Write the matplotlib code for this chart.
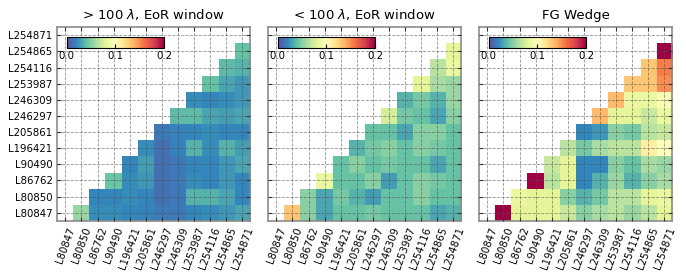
import numpy as np
import matplotlib
matplotlib.use("Agg")
import matplotlib.pyplot as plt

obs_ids = ["L80847", "L80850", "L86762", "L90490", "L196421", "L205861",
           "L246297", "L246309", "L253987", "L254116", "L254865", "L254871"]

titles = [r"> 100 $\lambda$, EoR window", r"< 100 $\lambda$, EoR window", "FG Wedge"]

# row i holds the values for columns i+1 .. 11 (upper triangle)
eor_high = [
    [0.055, 0.022, 0.022, 0.020, 0.018, 0.015, 0.015, 0.020, 0.022, 0.025, 0.030],
    [0.020, 0.020, 0.022, 0.020, 0.012, 0.015, 0.035, 0.035, 0.030, 0.020],
    [0.042, 0.022, 0.025, 0.012, 0.015, 0.022, 0.020, 0.025, 0.020],
    [0.020, 0.028, 0.012, 0.015, 0.020, 0.020, 0.025, 0.030],
    [0.022, 0.012, 0.018, 0.035, 0.022, 0.035, 0.028],
    [0.015, 0.018, 0.020, 0.022, 0.020, 0.020],
    [0.038, 0.038, 0.030, 0.028, 0.030],
    [0.022, 0.020, 0.022, 0.025],
    [0.040, 0.030, 0.025],
    [0.038, 0.035],
    [0.040],
]

eor_low = [
    [0.130, 0.050, 0.030, 0.040, 0.040, 0.045, 0.040, 0.040, 0.040, 0.030, 0.035],
    [0.050, 0.030, 0.045, 0.035, 0.027, 0.040, 0.040, 0.050, 0.040, 0.040],
    [0.085, 0.040, 0.040, 0.050, 0.027, 0.040, 0.050, 0.045, 0.040],
    [0.040, 0.050, 0.040, 0.045, 0.040, 0.040, 0.030, 0.040],
    [0.035, 0.045, 0.050, 0.040, 0.050, 0.045, 0.040],
    [0.040, 0.040, 0.030, 0.050, 0.050, 0.040],
    [0.075, 0.045, 0.040, 0.030, 0.050],
    [0.035, 0.045, 0.035, 0.055],
    [0.080, 0.060, 0.055],
    [0.065, 0.085],
    [0.080],
]

fg_wedge = [
    [0.200, 0.080, 0.080, 0.080, 0.070, 0.050, 0.060, 0.065, 0.055, 0.065, 0.080],
    [0.085, 0.080, 0.080, 0.050, 0.035, 0.045, 0.065, 0.065, 0.080, 0.085],
    [0.200, 0.065, 0.080, 0.020, 0.035, 0.055, 0.035, 0.050, 0.060],
    [0.070, 0.080, 0.020, 0.020, 0.050, 0.040, 0.060, 0.055],
    [0.065, 0.045, 0.060, 0.065, 0.065, 0.110, 0.100],
    [0.020, 0.025, 0.050, 0.045, 0.065, 0.070],
    [0.135, 0.080, 0.080, 0.070, 0.085],
    [0.135, 0.085, 0.085, 0.095],
    [0.130, 0.130, 0.150],
    [0.130, 0.155],
    [0.200],
]


def to_matrix(rows):
    n = len(obs_ids)
    m = np.full((n, n), np.nan)
    for i, row in enumerate(rows):
        m[i, i + 1:i + 1 + len(row)] = row
    return np.ma.masked_invalid(m)


fs = 7.3
fig = plt.figure(figsize=(6.86, 2.79), dpi=100)
lefts = [57.3 / 686, 268.3 / 686, 479.3 / 686]

for k, (title, rows) in enumerate(zip(titles, [eor_high, eor_low, fg_wedge])):
    ax = fig.add_axes([lefts[k], 0.209, 0.2814, 0.6932])
    im = ax.imshow(to_matrix(rows), origin="lower", cmap="Spectral_r",
                   vmin=0, vmax=0.2, interpolation="nearest", aspect="auto")
    ax.set_xticks(range(len(obs_ids)))
    ax.set_yticks(range(len(obs_ids)))
    ax.set_xticklabels(obs_ids, rotation=70, fontsize=fs)
    if k == 0:
        ax.set_yticklabels(obs_ids, fontsize=fs)
    else:
        ax.set_yticklabels([])
    ax.tick_params(direction="in", length=3, width=0.8, color="0.2",
                   top=True, right=True)
    ax.set_axisbelow(False)
    ax.grid(True, ls="--", color="0.3", lw=0.6, alpha=0.6)
    for sp in ax.spines.values():
        sp.set_color("0.55")
        sp.set_linewidth(1.2)
    ax.set_title(title, fontsize=9.5)

    cax = ax.inset_axes([0.049, 0.892, 0.504, 0.058])
    cb = fig.colorbar(im, cax=cax, orientation="horizontal", ticks=[0, 0.1, 0.2])
    cb.ax.set_xticklabels(["0.0", "0.1", "0.2"])
    cb.ax.tick_params(direction="in", length=3, width=0.8, labelsize=fs, pad=2)
    cb.outline.set_linewidth(0.8)

fig.savefig("out.png", dpi=100)
